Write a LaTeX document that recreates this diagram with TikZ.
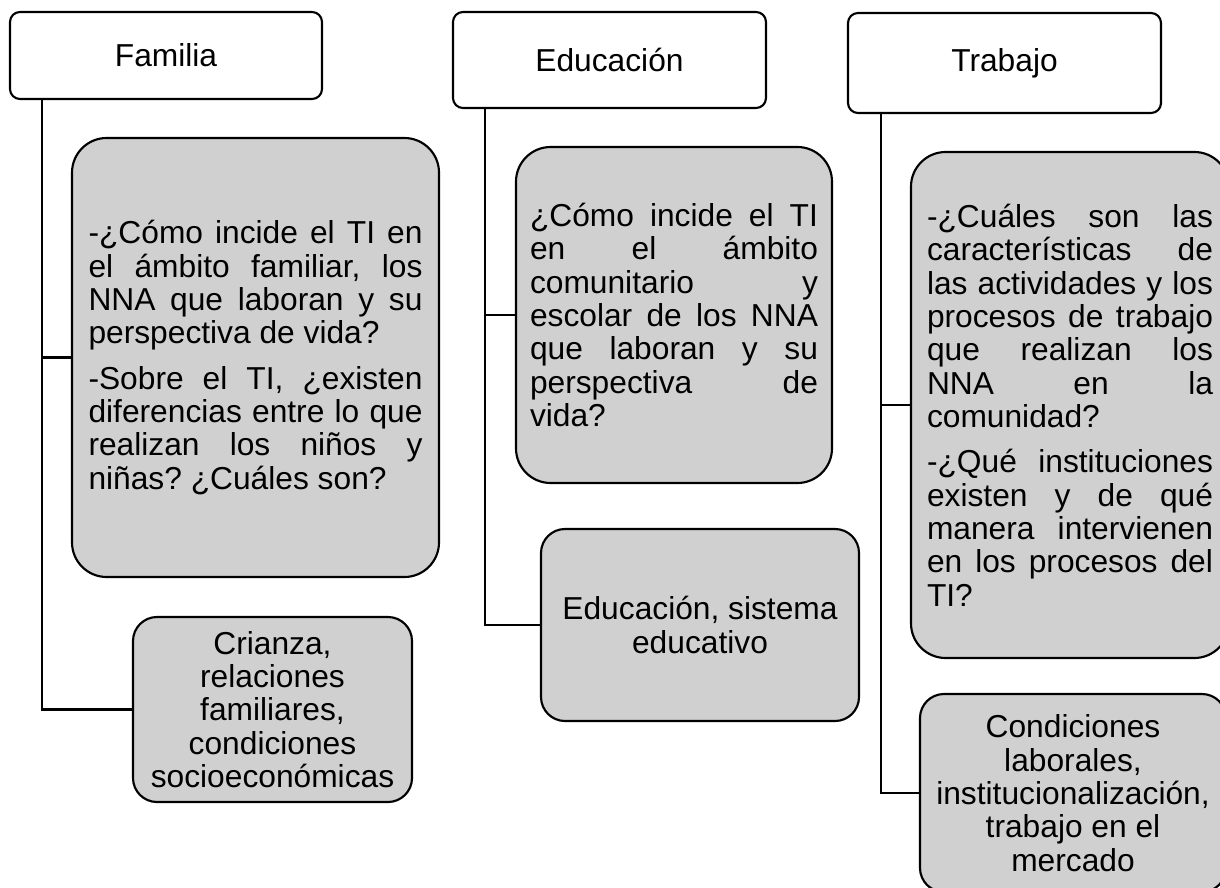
\documentclass[tikz,border=0pt]{standalone}
\usepackage{fontspec}
\setmainfont{Liberation Sans}
\frenchspacing
\setlength{\parindent}{0pt}
\setlength{\parskip}{0pt}
\newlength\jw
\newcommand\jl[1]{\hbox to\jw{\spaceskip=0pt\xspaceskip=0pt #1}\par}
\definecolor{boxgray}{RGB}{208,208,208}
\begin{document}
\begin{tikzpicture}[x=0.75pt,y=-0.75pt]
\tikzset{
  txt/.style={font=\fontsize{23.8pt}{25pt}\selectfont, execute at begin node={\spaceskip=0pt\xspaceskip=0pt}},
  hdr/.style={txt, draw, line width=1.6pt, rounded corners=7.5pt, fill=white, inner sep=0pt, align=center},
  bigbox/.style={txt, draw, line width=1.6pt, rounded corners=26pt, fill=boxgray, inner ysep=0pt, align=left},
  smallbox/.style={txt, draw, line width=1.6pt, rounded corners=18pt, fill=boxgray, inner sep=0pt, align=center},
  conn/.style={line width=1.6pt},
}
\useasboundingbox (0,0) rectangle (1220,888);
\fill[white] (0,0) rectangle (1220,888);
\clip (0,0) rectangle (1220,888);

% headers
\node[hdr, minimum width=234pt, minimum height=65.25pt] (famH) at (166,55.5) {Familia};
\node[hdr, minimum width=234.75pt, minimum height=72pt] (eduH) at (609.5,60) {Educación};
\node[hdr, minimum width=234.75pt, minimum height=75pt] (trabH) at (1004.5,63) {Trabajo};

% Familia
\setlength{\jw}{250.5pt}
\node[bigbox, minimum width=275.25pt, minimum height=329.25pt, text width=250.5pt, inner xsep=12.375pt] (fam1) at (255.5,357.5) {%
\jl{-¿Cómo incide el TI en}
\jl{el ámbito familiar, los}
\jl{NNA que laboran y su}
perspectiva de vida?\par
\vspace{9pt}
\jl{-Sobre el TI, ¿existen}
\jl{diferencias entre lo que}
\jl{realizan los niños y}
niñas? ¿Cuáles son?};
\node[smallbox, minimum width=209.25pt, minimum height=138.75pt] (fam2) at (272.5,709.5) {Crianza,\\relaciones\\familiares,\\condiciones\\socioeconómicas};

% Educación
\setlength{\jw}{216pt}
\node[bigbox, minimum width=237pt, minimum height=252pt, text width=216pt, inner xsep=10.5pt] (edu1) at (674,315) {%
\jl{¿Cómo incide el TI}
\jl{en el ámbito}
\jl{comunitario y}
\jl{escolar de los NNA}
\jl{que laboran y su}
\jl{perspectiva de}
vida?};
\node[smallbox, minimum width=238.5pt, minimum height=144pt] (edu2) at (700,625) {Educación, sistema\\educativo};

% Trabajo
\setlength{\jw}{214.5pt}
\node[bigbox, minimum width=238.5pt, minimum height=379.5pt, text width=214.5pt, inner xsep=12pt] (trab1) at (1070,405) {%
\jl{-¿Cuáles son las}
\jl{características de}
\jl{las actividades y los}
\jl{procesos de trabajo}
\jl{que realizan los}
\jl{NNA en la}
comunidad?\par
\vspace{9pt}
\jl{-¿Qué instituciones}
\jl{existen y de qué}
\jl{manera intervienen}
\jl{en los procesos del}
TI?};
\node[smallbox, minimum width=229.5pt, minimum height=148.5pt] (trab2) at (1073,793) {Condiciones\\laborales,\\institucionalización,\\trabajo en el\\mercado};

% connectors
\coordinate (famX) at (42,0);
\coordinate (eduX) at (485,0);
\coordinate (trabX) at (881,0);
\draw[conn] (famH.south -| famX) |- (fam2.west);
\draw[conn] (famX |- fam1.west) -- (fam1.west);
\draw[conn] (eduH.south -| eduX) |- (edu2.west);
\draw[conn] (eduX |- edu1.west) -- (edu1.west);
\draw[conn] (trabH.south -| trabX) |- (trab2.west);
\draw[conn] (trabX |- trab1.west) -- (trab1.west);
\end{tikzpicture}
\end{document}
